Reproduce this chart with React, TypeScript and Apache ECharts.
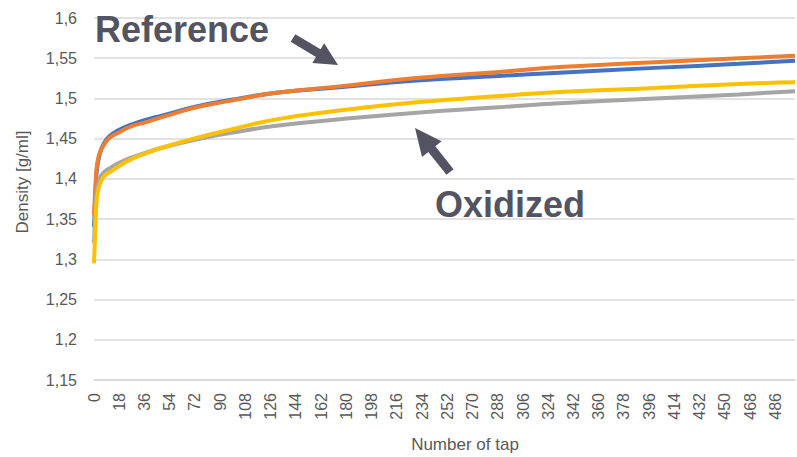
import React, { useEffect, useRef } from "react";
import * as echarts from "echarts";

// Number of taps at which values were read
const taps = [0, 1, 2, 4, 7, 11, 18, 26, 36, 49, 73, 97, 130, 175, 228, 289, 332, 400, 460, 500];

// Density [g/ml]
const reference1 = [1.34, 1.38, 1.41, 1.43, 1.444, 1.453, 1.461, 1.467, 1.473, 1.479, 1.49, 1.498, 1.507, 1.514, 1.522, 1.528, 1.532, 1.538, 1.543, 1.547];
const reference2 = [1.355, 1.39, 1.415, 1.432, 1.442, 1.451, 1.458, 1.465, 1.47, 1.477, 1.489, 1.497, 1.507, 1.515, 1.525, 1.533, 1.539, 1.545, 1.55, 1.553];
const oxidized1 = [1.32, 1.36, 1.385, 1.4, 1.408, 1.413, 1.42, 1.426, 1.432, 1.439, 1.449, 1.457, 1.466, 1.474, 1.482, 1.489, 1.494, 1.5, 1.505, 1.509];
const oxidized2 = [1.295, 1.34, 1.375, 1.393, 1.403, 1.408, 1.416, 1.424, 1.431, 1.439, 1.451, 1.461, 1.474, 1.485, 1.495, 1.503, 1.508, 1.513, 1.518, 1.52];

const seriesNames = ["Reference 1", "Reference 2", "Oxidized 1", "Oxidized 2"];
const seriesValues = [reference1, reference2, oxidized1, oxidized2];
const seriesColors = ["#4472C4", "#ED7D31", "#A5A5A5", "#FFC000"];

const annotations = ["Reference", "Oxidized"];

const ANNOT = "#535362";

function arrow(tail: number[], tip: number[], halfShaft: number, halfHead: number, headLen: number) {
  const dx = tip[0] - tail[0];
  const dy = tip[1] - tail[1];
  const len = Math.hypot(dx, dy);
  const ux = dx / len, uy = dy / len;
  const nx = -uy, ny = ux;
  const bx = tip[0] - ux * headLen, by = tip[1] - uy * headLen;
  return [
    [tail[0] + nx * halfShaft, tail[1] + ny * halfShaft],
    [bx + nx * halfShaft, by + ny * halfShaft],
    [bx + nx * halfHead, by + ny * halfHead],
    [tip[0], tip[1]],
    [bx - nx * halfHead, by - ny * halfHead],
    [bx - nx * halfShaft, by - ny * halfShaft],
    [tail[0] - nx * halfShaft, tail[1] - ny * halfShaft],
  ];
}

export default function App() {
  const ref = useRef<HTMLDivElement>(null);
  useEffect(() => {
    if (!ref.current) return;
    const chart = echarts.init(ref.current, undefined, { renderer: "svg" });
    const fontFamily = "'Liberation Sans', Arial, sans-serif";
    chart.setOption({
      animation: false,
      backgroundColor: "#ffffff",
      grid: { left: 94, right: 2, top: 18, bottom: 77, containLabel: false, outerBoundsMode: "none" },
      xAxis: {
        type: "value",
        min: 0,
        max: 500,
        interval: 18,
        name: "Number of tap",
        nameLocation: "middle",
        nameGap: 56,
        nameTextStyle: { color: "#595959", fontSize: 17, fontFamily, padding: [0, 0, 0, 41] },
        axisLine: { show: true, lineStyle: { color: "#d9d9d9", width: 1.5 } },
        axisTick: { show: false },
        splitLine: { show: false },
        axisLabel: {
          rotate: 90,
          margin: 13,
          color: "#595959",
          fontSize: 16,
          fontFamily,
          showMaxLabel: false,
          formatter: (v: number) => (v % 18 === 0 ? String(v) : ""),
        },
      },
      yAxis: {
        type: "value",
        min: 1.15,
        max: 1.6,
        interval: 0.05,
        name: "Density [g/ml]",
        nameLocation: "middle",
        nameGap: 63,
        nameTextStyle: { color: "#595959", fontSize: 17, fontFamily, padding: [0, 0, 0, 34] },
        axisLine: { show: false },
        axisTick: { show: false },
        splitLine: { show: true, lineStyle: { color: "#d9d9d9", width: 1.5 } },
        axisLabel: {
          margin: 17,
          color: "#595959",
          fontSize: 16,
          fontFamily,
          formatter: (v: number) => String(+v.toFixed(2)).replace(".", ","),
        },
      },
      series: seriesNames.map((name, i) => ({
        name,
        type: "line",
        data: taps.map((t, j) => [t, seriesValues[i][j]]),
        showSymbol: false,
        smooth: 0.5,
        lineStyle: { color: seriesColors[i], width: 4 },
        itemStyle: { color: seriesColors[i] },
        z: 2 + i,
      })),
      graphic: [
        {
          type: "text",
          left: 95,
          top: 11,
          style: {
            text: annotations[0],
            font: `bold 36px ${fontFamily}`,
            fill: ANNOT,
          },
          z: 100,
        },
        {
          type: "text",
          left: 435,
          top: 186,
          style: {
            text: annotations[1],
            font: `bold 36px ${fontFamily}`,
            fill: ANNOT,
          },
          z: 100,
        },
        {
          type: "polygon",
          shape: { points: arrow([293, 38], [338, 65], 4.5, 11.5, 23) },
          style: { fill: ANNOT },
          z: 100,
        },
        {
          type: "polygon",
          shape: { points: arrow([450, 172], [415, 128], 4.5, 12.5, 27) },
          style: { fill: ANNOT },
          z: 100,
        },
      ],
    });
    return () => chart.dispose();
  }, []);
  return (
    <div
      ref={ref}
      style={{ position: "fixed", left: 0, top: 0, width: 797, height: 457 }}
    />
  );
}
